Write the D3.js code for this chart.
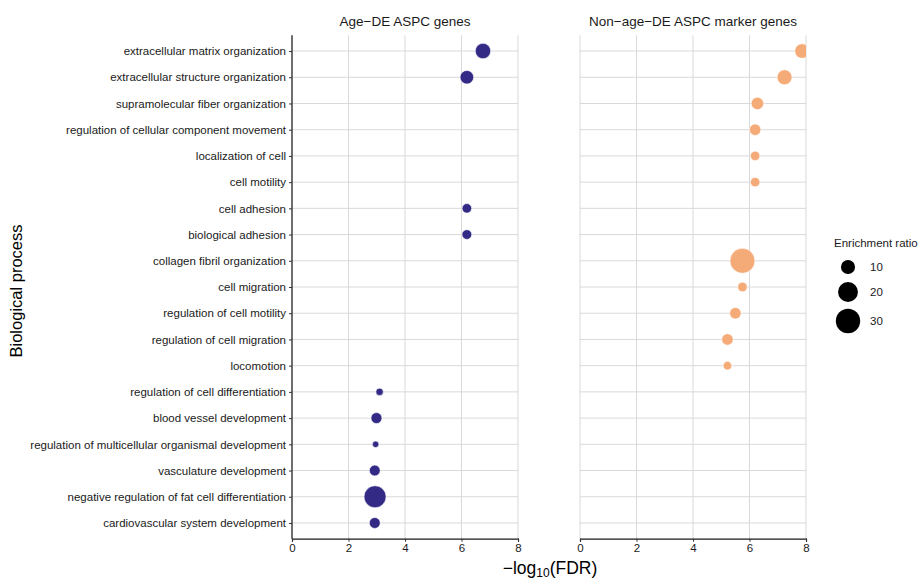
<!DOCTYPE html>
<html>
<head>
<meta charset="utf-8">
<script src="https://cdn.jsdelivr.net/npm/d3@7"></script>
<style>
  body { margin: 0; background: #fff; }
  svg { display: block; font-family: "Liberation Sans", Arial, Helvetica, sans-serif; }
</style>
</head>
<body>
<svg id="chart" width="919" height="581"></svg>
<script>
// ---- Data ----
const categories = [
  "extracellular matrix organization",
  "extracellular structure organization",
  "supramolecular fiber organization",
  "regulation of cellular component movement",
  "localization of cell",
  "cell motility",
  "cell adhesion",
  "biological adhesion",
  "collagen fibril organization",
  "cell migration",
  "regulation of cell motility",
  "regulation of cell migration",
  "locomotion",
  "regulation of cell differentiation",
  "blood vessel development",
  "regulation of multicellular organismal development",
  "vasculature development",
  "negative regulation of fat cell differentiation",
  "cardiovascular system development"
];
const panels = ["Age\u2212DE ASPC genes", "Non\u2212age\u2212DE ASPC marker genes"];

// Age-DE ASPC genes
const ageTerms = [
  "extracellular matrix organization",
  "extracellular structure organization",
  "cell adhesion",
  "biological adhesion",
  "regulation of cell differentiation",
  "blood vessel development",
  "regulation of multicellular organismal development",
  "vasculature development",
  "negative regulation of fat cell differentiation",
  "cardiovascular system development"
];
const ageFDR = [6.76, 6.19, 6.19, 6.19, 3.10, 2.99, 2.96, 2.93, 2.94, 2.93];
const ageER  = [12.0, 9.3, 4.6, 4.8, 2.8, 6.1, 2.1, 5.9, 24.4, 6.0];

// Non-age-DE ASPC marker genes
const nonTerms = [
  "extracellular matrix organization",
  "extracellular structure organization",
  "supramolecular fiber organization",
  "regulation of cellular component movement",
  "localization of cell",
  "cell motility",
  "collagen fibril organization",
  "cell migration",
  "regulation of cell motility",
  "regulation of cell migration",
  "locomotion"
];
const nonFDR = [7.86, 7.24, 6.28, 6.20, 6.20, 6.20, 5.75, 5.75, 5.50, 5.22, 5.22];
const nonER  = [10.7, 11.3, 7.8, 6.6, 4.5, 4.5, 31.5, 4.6, 6.6, 6.6, 3.7];

const xTicks = [0, 2, 4, 6, 8];
const legendValues = [10, 20, 30];
const colors = ["#332a85", "#f4ab78"];

// ---- Layout ----
const svg = d3.select("#chart");
const panelX = [292, 580];
const panelW = 226;
const plotTop = 35.3, plotBottom = 538.7;

const y = d3.scalePoint().domain(categories).range([plotTop, plotBottom]).padding(0.6);
const r = d3.scaleSqrt().domain([0, 30]).range([0, 12.2]);
const gridColor = "#d9d9d9";
const textColor = "#1a1a1a";

const seriesData = [
  ageTerms.map((t, i) => ({term: t, fdr: ageFDR[i], er: ageER[i]})),
  nonTerms.map((t, i) => ({term: t, fdr: nonFDR[i], er: nonER[i]}))
];

panels.forEach((title, p) => {
  const x = d3.scaleLinear().domain([0, 8]).range([panelX[p], panelX[p] + panelW]);
  const g = svg.append("g");

  svg.append("clipPath").attr("id", "clip" + p)
    .append("rect").attr("x", panelX[p]).attr("y", plotTop)
    .attr("width", panelW).attr("height", plotBottom - plotTop);

  g.append("g").selectAll("line").data(categories).join("line")
    .attr("x1", panelX[p]).attr("x2", panelX[p] + panelW)
    .attr("y1", d => y(d)).attr("y2", d => y(d))
    .attr("stroke", gridColor).attr("stroke-width", 1);
  g.append("g").selectAll("line").data(xTicks).join("line")
    .attr("x1", d => x(d)).attr("x2", d => x(d))
    .attr("y1", plotTop).attr("y2", plotBottom)
    .attr("stroke", gridColor).attr("stroke-width", 1);

  g.append("g").attr("clip-path", `url(#clip${p})`)
    .selectAll("circle").data(seriesData[p]).join("circle")
    .attr("cx", d => x(d.fdr)).attr("cy", d => y(d.term))
    .attr("r", d => r(d.er))
    .attr("fill", colors[p])
    .attr("stroke", "#ffffff").attr("stroke-width", 0.6);

  const xa = g.append("g").attr("transform", `translate(0,${plotBottom})`)
    .call(d3.axisBottom(x).tickValues(xTicks).tickSize(3).tickPadding(2).tickFormat(d3.format("d")));
  xa.select(".domain").attr("stroke", "#1a1a1a").attr("stroke-width", 1.2);
  xa.selectAll(".tick line").attr("stroke", "#333").attr("stroke-width", 1);
  xa.selectAll(".tick text").attr("fill", textColor).style("font-size", "11.5px")
    .style("font-family", '"Liberation Sans", Arial, sans-serif');

  if (p === 0) {
    const ya = g.append("g").attr("transform", `translate(${panelX[p]},0)`)
      .call(d3.axisLeft(y).tickSize(3).tickPadding(3));
    ya.select(".domain").attr("d", `M0,${plotTop}V${plotBottom}`).attr("stroke", "#1a1a1a").attr("stroke-width", 1.2);
    ya.selectAll(".tick line").attr("stroke", "#333").attr("stroke-width", 1);
    ya.selectAll(".tick text").attr("fill", textColor).style("font-size", "11.5px")
      .style("font-family", '"Liberation Sans", Arial, sans-serif');
  }

  svg.append("text").attr("x", panelX[p] + panelW / 2).attr("y", 26)
    .attr("text-anchor", "middle").attr("fill", textColor)
    .style("font-size", "13.5px").text(title);
});

const xt = svg.append("text").attr("x", 550).attr("y", 574).attr("text-anchor", "middle")
  .attr("fill", "#000").style("font-size", "17.5px");
xt.append("tspan").text("\u2212log");
xt.append("tspan").attr("dy", 3).style("font-size", "12px").text("10");
xt.append("tspan").attr("dy", -3).text("(FDR)");

svg.append("text").attr("transform", `translate(22,${(plotTop + plotBottom) / 2 + 4}) rotate(-90)`)
  .attr("text-anchor", "middle").attr("fill", "#000").style("font-size", "16.5px")
  .text("Biological process");

const lg = svg.append("g");
lg.append("text").attr("x", 834).attr("y", 247).attr("fill", textColor)
  .style("font-size", "11.5px").text("Enrichment ratio");
const legendY = [267, 292, 321];
legendValues.forEach((v, i) => {
  lg.append("circle").attr("cx", 848).attr("cy", legendY[i]).attr("r", r(v)).attr("fill", "#000");
  lg.append("text").attr("x", 870).attr("y", legendY[i] + 4).attr("fill", textColor)
    .style("font-size", "11.5px").text(v);
});
</script>
</body>
</html>
